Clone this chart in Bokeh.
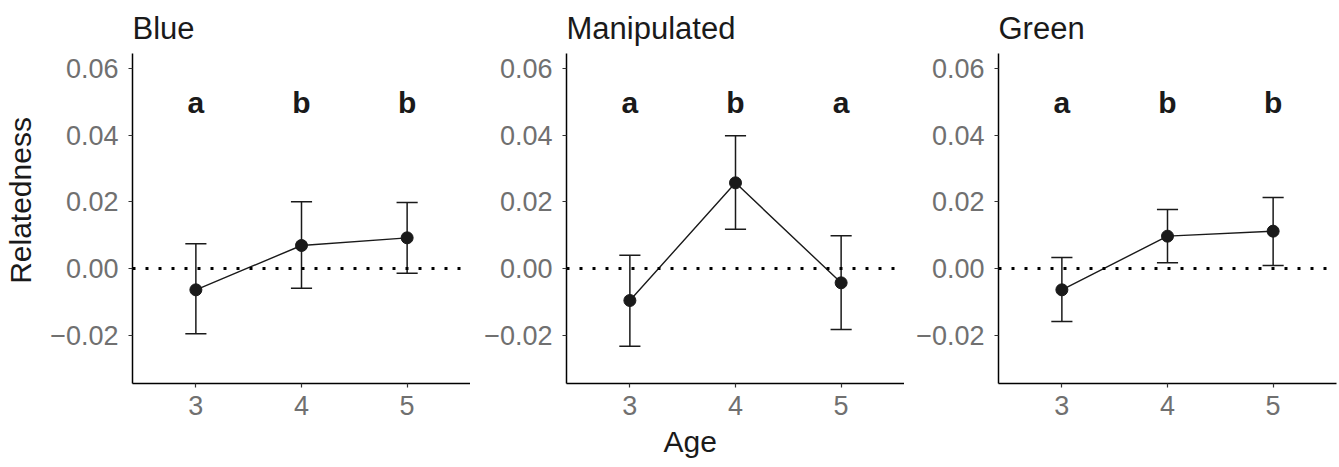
import math
from bokeh.plotting import figure
from bokeh.layouts import row
from bokeh.models import (Range1d, FixedTicker, CustomJSTickFormatter, Span, Title,
                          ColumnDataSource)
from bokeh.core.properties import value
from bokeh.embed import file_html
from bokeh.resources import INLINE

# ---------------- data ----------------
ages = [3, 4, 5]
panel_titles = ["Blue", "Manipulated", "Green"]

blue_mean = [-0.0064, 0.0069, 0.0092]
blue_lower = [-0.0196, -0.0059, -0.0014]
blue_upper = [0.0074, 0.0200, 0.0198]
blue_letters = ["a", "b", "b"]

manip_mean = [-0.0096, 0.0257, -0.0043]
manip_lower = [-0.0233, 0.0118, -0.0183]
manip_upper = [0.0040, 0.0398, 0.0098]
manip_letters = ["a", "b", "a"]

green_mean = [-0.0064, 0.0097, 0.0112]
green_lower = [-0.0159, 0.0017, 0.0009]
green_upper = [0.0033, 0.0177, 0.0213]
green_letters = ["a", "b", "b"]

letter_y = 0.05
y_ticks = [-0.02, 0.0, 0.02, 0.04, 0.06]
x_ticks = [3, 4, 5]
y_title = "Relatedness"
x_title = "Age"

series = [
    (blue_mean, blue_lower, blue_upper, blue_letters),
    (manip_mean, manip_lower, manip_upper, manip_letters),
    (green_mean, green_lower, green_upper, green_letters),
]

FONT = "Liberation Sans"
INK = "#1a1a1a"
TICK_GREY = "#707070"

W, H = 1339, 467
label_w = 44          # strip holding the y-axis title
frame_w = 338
frame_h = 330
top_b = 53
bot_b = H - top_b - frame_h
left_borders = [132 - label_w, 96, 94]
widths = [lb + frame_w for lb in left_borders]
widths[2] = W - label_w - widths[0] - widths[1]

# y-axis title strip (pixel coordinates, y measured upward from page bottom)
ylab = figure(width=label_w, height=H, x_range=Range1d(0, label_w),
              y_range=Range1d(0, H), x_axis_type=None, y_axis_type=None,
              title=None, output_backend="svg", toolbar_location=None,
              min_border_left=0, min_border_right=0, min_border_top=0, min_border_bottom=0)
ylab.outline_line_color = None
ylab.xgrid.visible = False
ylab.ygrid.visible = False
ylab.text(x=[20], y=[H - 208], text=[y_title], angle=math.pi / 2,
          text_font=value(FONT), text_font_size="30px", text_color=INK,
          text_align="center", text_baseline="middle")

figs = [ylab]
for i, (mean, lo, hi, letters) in enumerate(series):
    p = figure(width=widths[i], height=H,
               x_range=Range1d(2.4, 5.6), y_range=Range1d(-0.0345, 0.0645),
               output_backend="svg", toolbar_location=None,
               min_border_left=left_borders[i], min_border_right=widths[i] - left_borders[i] - frame_w,
               min_border_top=top_b, min_border_bottom=bot_b)
    p.outline_line_color = None
    p.xgrid.visible = False
    p.ygrid.visible = False
    p.background_fill_color = "white"
    p.border_fill_color = "white"

    # title
    p.title.text = panel_titles[i]
    p.title.text_font = FONT
    p.title.text_font_size = "31px"
    p.title.text_font_style = "normal"
    p.title.text_color = INK
    p.title.align = "left"
    p.title.text_line_height = 1.0
    p.title.standoff = 16

    # axes
    for ax in (p.xaxis[0], p.yaxis[0]):
        ax.axis_line_color = "black"
        ax.axis_line_width = 1.5
        ax.major_tick_line_color = "#333333"
        ax.major_tick_line_width = 1.2
        ax.major_tick_in = 0
        ax.major_tick_out = 4
        ax.minor_tick_line_color = None
        ax.major_label_text_font = FONT
        ax.major_label_text_font_size = "27px"
        ax.major_label_text_color = TICK_GREY
    p.xaxis.ticker = FixedTicker(ticks=x_ticks)
    p.yaxis.ticker = FixedTicker(ticks=y_ticks)
    p.yaxis.formatter = CustomJSTickFormatter(
        code="return (tick < -1e-9 ? '\u2212' : '') + Math.abs(tick).toFixed(2);")
    p.xaxis.major_label_standoff = 8
    p.yaxis.major_label_standoff = 10

    # zero reference line
    p.add_layout(Span(location=0, dimension="width", line_color="black",
                      line_width=3.2, line_dash="3 10"))

    src = ColumnDataSource(dict(
        x=ages, mean=mean, lo=lo, hi=hi,
        xl=[a - 0.1 for a in ages], xr=[a + 0.1 for a in ages],
        lab=letters, ly=[letter_y] * len(ages)))

    p.segment(x0="x", y0="lo", x1="x", y1="hi", source=src, line_color=INK, line_width=1.5)
    p.segment(x0="xl", y0="hi", x1="xr", y1="hi", source=src, line_color=INK, line_width=1.5)
    p.segment(x0="xl", y0="lo", x1="xr", y1="lo", source=src, line_color=INK, line_width=1.5)
    p.line(x="x", y="mean", source=src, line_color=INK, line_width=1.4)
    p.scatter(x="x", y="mean", source=src, size=12, fill_color=INK, line_color=INK)
    p.text(x="x", y="ly", text="lab", source=src, text_font=value(FONT),
           text_font_size="30px", text_font_style="bold", text_align="center",
           text_baseline="middle", text_color=INK, y_offset=1)

    if i == 1:
        p.add_layout(Title(text=x_title, align="left", offset=97, standoff=10,
                           text_line_height=1.0,
                           text_font=FONT, text_font_size="30px",
                           text_font_style="normal", text_color=INK), "below")
    figs.append(p)

layout = row(*figs, spacing=0)
open("out.html", "w").write(file_html(layout, INLINE))
